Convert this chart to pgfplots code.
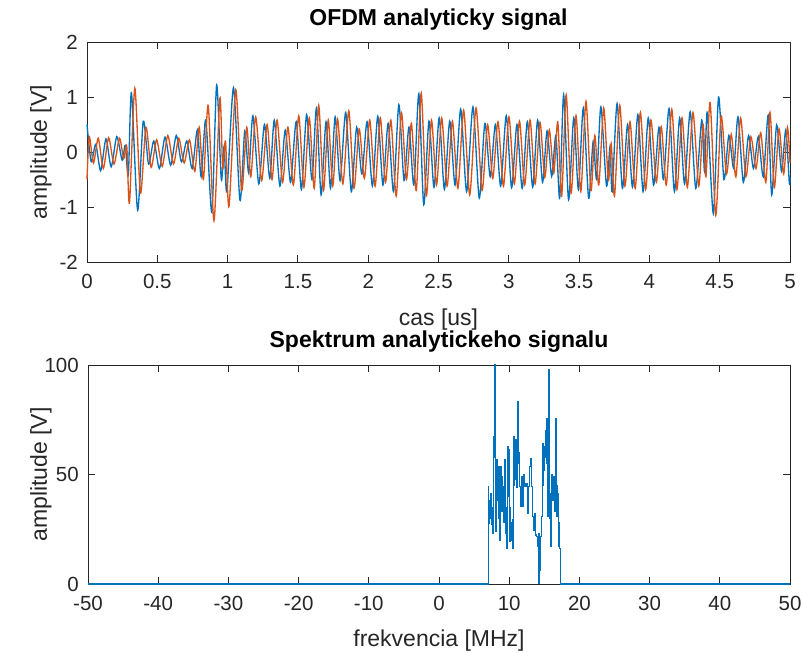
\documentclass[border=0pt]{standalone}
\usepackage{pgfplots}
\pgfplotsset{compat=1.18}
\usepackage{fontspec}
\setmainfont{Liberation Sans}

\definecolor{mblue}{rgb}{0,0.447,0.741}
\definecolor{morange}{rgb}{0.85,0.325,0.098}
\definecolor{axgray}{rgb}{0.15,0.15,0.15}

\pgfplotsset{
  mstyle/.style={
    scale only axis, anchor=south west, clip=false,
    axis line style={axgray, line width=0.5pt},
    every tick/.style={axgray, line width=0.5pt},
    tick align=inside, major tick length=4.2pt,
    tick label style={font=\fontsize{12.3}{14}\selectfont, text=axgray},
    xticklabel style={yshift=-4pt},
    yticklabel style={xshift=-2pt},
    /pgf/number format/assume math mode=true,
  },
}

\begin{document}
\begin{tikzpicture}
\path[use as bounding box] (0,0) rectangle (481.8pt,391.2pt);

% upper plot: real and imaginary part of the signal
\begin{axis}[mstyle,
    at={(52.2pt,234pt)}, width=421.8pt, height=132pt,
    xmin=0, xmax=5, ymin=-2, ymax=2,
    xtick={0,0.5,...,5}, ytick={-2,-1,0,1,2},
  ]
\addplot[mblue, line width=0.8pt, mark=none, smooth, tension=0.45] coordinates {
(0.000,0.50) (0.030,-0.18) (0.062,0.14) (0.097,-0.34) (0.135,0.24) (0.172,-0.27)
(0.212,0.28) (0.250,-0.15) (0.272,0.12) (0.294,-0.42) (0.316,1.08) (0.360,-1.06)
(0.400,0.56) (0.438,-0.22) (0.475,0.20) (0.515,-0.30) (0.555,0.27) (0.595,-0.24)
(0.635,0.30) (0.672,-0.18) (0.710,0.20) (0.748,-0.30) (0.785,0.40) (0.812,-0.45)
(0.845,0.58) (0.888,-1.10) (0.922,1.22) (0.955,-0.50) (0.975,0.10) (0.995,-0.72)
(1.042,1.17) (1.088,-0.88) (1.122,0.38) (1.150,-0.38) (1.180,0.66) (1.222,-0.58)
(1.262,0.50) (1.300,-0.48) (1.332,0.58) (1.372,-0.62) (1.410,0.40) (1.448,-0.55)
(1.488,0.55) (1.525,-0.68) (1.562,0.68) (1.600,-0.50) (1.632,0.80) (1.665,-0.78)
(1.700,0.55) (1.732,-0.66) (1.765,0.64) (1.800,-0.52) (1.840,0.72) (1.880,-0.72)
(1.918,0.45) (1.955,-0.40) (1.992,0.55) (2.030,-0.62) (2.068,0.65) (2.105,-0.60)
(2.142,0.52) (2.180,-0.72) (2.218,0.86) (2.255,-0.52) (2.290,0.45) (2.325,-0.60)
(2.360,1.06) (2.395,-0.96) (2.432,0.56) (2.468,-0.64) (2.505,0.62) (2.542,-0.68)
(2.580,0.56) (2.618,-0.60) (2.658,0.78) (2.700,-0.72) (2.745,0.82) (2.790,-0.84)
(2.830,0.52) (2.868,-0.45) (2.905,0.50) (2.942,-0.62) (2.982,0.66) (3.020,-0.65)
(3.058,0.50) (3.095,-0.66) (3.132,0.55) (3.170,-0.64) (3.205,0.58) (3.240,-0.55)
(3.272,0.38) (3.305,-0.44) (3.335,0.30) (3.362,-0.84) (3.390,1.04) (3.425,-0.87)
(3.462,0.62) (3.495,-0.68) (3.530,0.80) (3.568,-0.84) (3.600,0.19) (3.625,-0.50)
(3.655,0.82) (3.695,-0.62) (3.720,0.10) (3.735,-0.72) (3.770,0.88) (3.808,-0.66)
(3.845,0.50) (3.880,-0.64) (3.918,0.68) (3.955,-0.72) (3.992,0.62) (4.030,-0.60)
(4.068,0.45) (4.100,-0.50) (4.140,0.79) (4.178,-0.72) (4.215,0.62) (4.250,-0.58)
(4.290,0.73) (4.330,-0.66) (4.372,0.58) (4.392,-0.35) (4.412,0.72) (4.455,-1.12)
(4.492,1.00) (4.530,-0.50) (4.565,0.30) (4.600,-0.30) (4.630,0.64) (4.668,-0.55)
(4.705,0.30) (4.740,-0.30) (4.775,0.28) (4.810,-0.45) (4.845,0.67) (4.870,-0.78)
(4.905,0.49) (4.940,-0.35) (4.970,0.40) (4.995,-0.56) (5.000,-0.45)
};
\addplot[morange, line width=0.8pt, mark=none, smooth, tension=0.45] coordinates {
(0.000,-0.50) (0.016,0.28) (0.046,-0.20) (0.080,0.25) (0.116,-0.30) (0.154,0.26)
(0.192,-0.22) (0.231,0.25) (0.261,-0.12) (0.283,0.10) (0.302,-0.93) (0.340,1.16)
(0.380,-0.75) (0.419,0.45) (0.456,-0.28) (0.495,0.22) (0.535,-0.26) (0.575,0.30)
(0.615,-0.22) (0.653,0.25) (0.691,-0.20) (0.729,0.22) (0.767,-0.35) (0.798,0.45)
(0.828,-0.50) (0.862,0.85) (0.903,-1.25) (0.945,0.98) (0.965,-0.30) (0.985,0.20)
(1.010,-0.99) (1.058,1.13) (1.100,-0.70) (1.136,0.45) (1.165,-0.45) (1.200,0.64)
(1.242,-0.52) (1.281,0.50) (1.316,-0.50) (1.352,0.58) (1.391,-0.55) (1.429,0.45)
(1.468,-0.60) (1.506,0.66) (1.543,-0.64) (1.581,0.62) (1.616,-0.66) (1.648,0.85)
(1.682,-0.70) (1.716,0.58) (1.748,-0.62) (1.782,0.60) (1.820,-0.58) (1.862,0.75)
(1.899,-0.66) (1.936,0.42) (1.973,-0.48) (2.011,0.58) (2.049,-0.62) (2.086,0.62)
(2.123,-0.55) (2.161,0.58) (2.199,-0.80) (2.236,0.72) (2.272,-0.50) (2.307,0.52)
(2.342,-0.70) (2.377,1.07) (2.413,-0.80) (2.450,0.58) (2.486,-0.60) (2.523,0.62)
(2.561,-0.62) (2.599,0.56) (2.638,-0.66) (2.679,0.76) (2.722,-0.78) (2.767,0.80)
(2.810,-0.70) (2.849,0.50) (2.886,-0.48) (2.923,0.55) (2.962,-0.62) (3.001,0.64)
(3.039,-0.58) (3.076,0.56) (3.113,-0.60) (3.151,0.58) (3.187,-0.58) (3.222,0.54)
(3.256,-0.46) (3.288,0.40) (3.320,-0.38) (3.348,0.55) (3.376,-0.80) (3.408,1.04)
(3.443,-0.75) (3.478,0.66) (3.512,-0.72) (3.549,0.92) (3.584,-0.70) (3.612,0.30)
(3.640,-0.60) (3.675,0.80) (3.708,-0.52) (3.728,0.15) (3.752,-0.80) (3.789,0.85)
(3.826,-0.62) (3.862,0.55) (3.899,-0.66) (3.936,0.72) (3.973,-0.68) (4.011,0.58)
(4.049,-0.55) (4.084,0.46) (4.120,-0.60) (4.159,0.78) (4.196,-0.68) (4.232,0.62)
(4.270,-0.64) (4.310,0.72) (4.351,-0.62) (4.382,0.50) (4.402,-0.45) (4.432,0.90)
(4.472,-1.15) (4.510,0.65) (4.548,-0.40) (4.582,0.32) (4.615,-0.45) (4.649,0.62)
(4.686,-0.45) (4.722,0.28) (4.758,-0.30) (4.792,0.35) (4.828,-0.55) (4.858,0.72)
(4.888,-0.65) (4.922,0.42) (4.955,-0.40) (4.982,0.45) (5.000,-0.20)
};
\end{axis}

% lower plot: spectrum
\begin{axis}[mstyle,
    at={(52.8pt,40.8pt)}, width=421.2pt, height=131.4pt,
    xmin=-50, xmax=50, ymin=0, ymax=100,
    xtick={-50,-40,...,50}, ytick={0,50,100},
  ]
\addplot[mblue, line width=0.75pt, mark=none, const plot mark mid] coordinates {
(-50,0) (7.03,0) (7.05,44.4) (7.10,36.0) (7.17,27.7) (7.26,38.0) (7.36,41.4)
(7.45,30.0) (7.55,27.0) (7.64,35.0) (7.74,23.1) (7.83,67.3) (7.90,58.0) (7.98,100)
(8.05,40.0) (8.12,23.9) (8.21,45.0) (8.31,56.6) (8.40,38.0) (8.50,53.6) (8.60,30.0)
(8.69,20.1) (8.78,53.6) (8.86,42.0) (8.93,49.0) (9.00,33.0) (9.07,38.4) (9.16,44.4)
(9.23,28.0) (9.31,32.3) (9.38,48.0) (9.45,56.6) (9.52,35.0) (9.59,23.1) (9.66,30.0)
(9.73,16.3) (9.80,40.0) (9.88,62.7) (9.95,48.0) (10.02,61.2) (10.09,35.0)
(10.16,19.3) (10.25,28.0) (10.35,20.1) (10.42,24.0) (10.49,16.3) (10.59,29.2)
(10.66,45.0) (10.73,67.3) (10.80,48.0) (10.87,52.1) (10.97,65.8) (11.06,44.0)
(11.16,50.5) (11.23,62.0) (11.30,83.3) (11.37,60.0) (11.44,55.1) (11.59,44.4)
(11.73,35.3) (11.87,49.0) (12.01,35.3) (12.16,49.8) (12.30,44.4) (12.49,46.0)
(12.63,32.3) (12.77,44.4) (12.92,53.6) (13.06,57.4) (13.20,44.4) (13.34,30.7)
(13.49,24.7) (13.63,32.3) (13.77,22.4) (13.91,21.6) (14.05,17.0) (14.20,23.1)
(14.29,0.3) (14.39,6.4) (14.53,21.6) (14.67,30.7) (14.76,45.0) (14.86,64.2)
(15.00,52.1) (15.07,58.0) (15.15,62.7) (15.25,70.0) (15.34,75.6) (15.41,55.0)
(15.48,30.7) (15.55,60.0) (15.62,97.7) (15.69,70.0) (15.76,41.4) (15.84,30.0)
(15.91,17.0) (15.98,30.0) (16.05,43.0) (16.12,50.0) (16.19,38.4) (16.28,45.0)
(16.38,49.0) (16.47,40.0) (16.57,33.0) (16.64,50.0) (16.71,75.6) (16.79,45.0)
(16.86,30.7) (16.93,38.0) (17.00,41.4) (17.07,28.0) (17.14,17.0) (17.28,16.3)
(17.38,0) (50,0)
};
\end{axis}

\node[anchor=base, font=\fontsize{13.8}{16}\selectfont\bfseries] at (263.1pt,376pt) {OFDM analyticky signal};
\node[anchor=base, font=\fontsize{13.8}{16}\selectfont\bfseries] at (263.4pt,182.4pt) {Spektrum analytickeho signalu};
\node[anchor=base, font=\fontsize{13.8}{16}\selectfont, text=axgray] at (263.1pt,195.6pt) {cas [us]};
\node[anchor=base, font=\fontsize{13.8}{16}\selectfont, text=axgray] at (263.4pt,3.6pt) {frekvencia [MHz]};
\node[rotate=90, font=\fontsize{13.8}{16}\selectfont, text=axgray] at (24.6pt,300pt) {amplitude [V]};
\node[rotate=90, font=\fontsize{13.8}{16}\selectfont, text=axgray] at (24.6pt,106.5pt) {amplitude [V]};
\end{tikzpicture}
\end{document}
